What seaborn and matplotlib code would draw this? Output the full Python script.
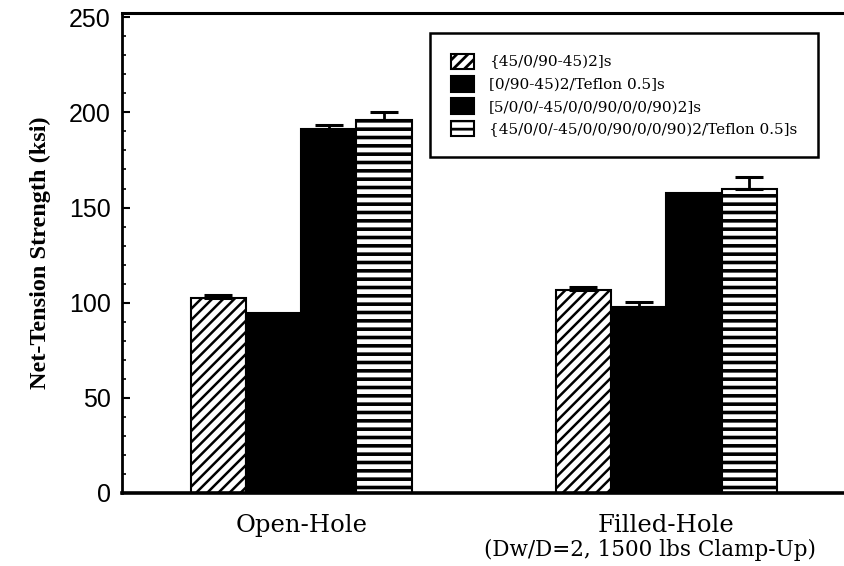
import numpy as np
import pandas as pd
import seaborn as sns
import matplotlib.pyplot as plt
from matplotlib.patches import Patch
from matplotlib.ticker import MultipleLocator
import matplotlib.transforms as mtransforms

# data
conditions = ["Open-Hole", "Filled-Hole"]
subnota = "(Dw/D=2, 1500 lbs Clamp-Up)"
laminates = [
    "{45/0/90-45)2]s",
    "[0/90-45)2/Teflon 0.5]s",
    "[5/0/0/-45/0/0/90/0/0/90)2]s",
    "{45/0/0/-45/0/0/90/0/0/90)2/Teflon 0.5]s",
]
# strength (ksi), one list per laminate: [open-hole, filled-hole]
strength = [
    [102.5, 106.5],
    [94.5, 97.5],
    [191.5, 157.5],
    [196.0, 160.0],
]
# upper error bar (ksi)
error = [
    [1.5, 2.0],
    [0.0, 3.0],
    [2.0, 0.0],
    [4.0, 6.0],
]

colores = ["white", "black", "black", "white"]
hatches = ["///", "", "", "--"]
hatch_lw = [1.8, 0, 0, 2.6]

filas = []
for i, lam in enumerate(laminates):
    for j, cond in enumerate(conditions):
        filas.append({"condition": cond, "laminate": lam,
                      "strength": strength[i][j], "err": error[i][j]})
df = pd.DataFrame(filas)

sns.set_style("ticks")
plt.rcParams["hatch.linewidth"] = 2.0
plt.rcParams["font.family"] = ["DejaVu Serif"]
for k in ["text.color", "axes.labelcolor", "xtick.color", "ytick.color", "axes.edgecolor"]:
    plt.rcParams[k] = "black"

fig = plt.figure(figsize=(8.44, 5.66), dpi=100)
ax = fig.add_axes([122 / 844, 1 - 493 / 566, 1 - 122 / 844, (493 - 12.5) / 566])

sns.barplot(data=df, x="condition", y="strength", hue="laminate",
            hue_order=laminates, order=conditions, palette=colores,
            saturation=1, width=0.605, errorbar=None, edgecolor="black",
            linewidth=1.5, legend=False, ax=ax)

# hatches + error bars per laminate
bar_conts = list(ax.containers)
for k, cont in enumerate(bar_conts):
    for j, bar in enumerate(cont):
        bar.set_hatch(hatches[k])
        bar.set_edgecolor("black")
        if hatches[k] and hasattr(bar, "set_hatch_linewidth"):
            bar.set_hatch_linewidth(hatch_lw[k])
        e = error[k][j]
        if e > 0:
            ax.errorbar(bar.get_x() + bar.get_width() / 2, strength[k][j],
                        yerr=[[0], [e]], fmt="none", ecolor="black",
                        elinewidth=2, capsize=10, capthick=2.2, zorder=5)

ax.set_xlim(-0.4905, 1.4864)
ax.set_ylim(0, 252.5)
ax.yaxis.set_major_locator(MultipleLocator(50))
ax.yaxis.set_minor_locator(MultipleLocator(10))
ax.tick_params(axis="y", which="major", direction="in", length=6, width=1.5,
               pad=8, labelsize=18, labelfontfamily="Liberation Sans")
ax.tick_params(axis="y", which="minor", direction="in", length=3, width=1.2)
ax.tick_params(axis="x", length=0, pad=15, labelsize=17.5)

# second line under Filled-Hole
trans = mtransforms.blended_transform_factory(ax.transData, ax.transAxes)
ax.text(0.956, -0.118, subnota, transform=trans, ha="center", va="center",
        fontsize=15.5)

ax.set_xlabel("")
ax.set_ylabel("Net-Tension Strength (ksi)", fontsize=17.5, fontweight="bold",
              family="Liberation Serif", labelpad=13)

ax.spines["right"].set_visible(False)
ax.spines["left"].set_linewidth(2)
ax.spines["bottom"].set_linewidth(2.6)
ax.spines["top"].set_linewidth(2.2)

handles = [Patch(facecolor=c, edgecolor="black", hatch=h, linewidth=1.5)
           for c, h in zip(colores, hatches)]
leg = ax.legend(handles, laminates, loc="upper left",
                bbox_to_anchor=(430 / 844, 1 - 33 / 566),
                bbox_transform=fig.transFigure, borderaxespad=0,
                fontsize=11, handlelength=1.5, handleheight=1.2,
                labelspacing=0.42, handletextpad=1.0, borderpad=1.35,
                fancybox=False, framealpha=1)
leg.get_frame().set_edgecolor("black")
leg.get_frame().set_linewidth(1.8)

fig.savefig("out.png", dpi=100)
